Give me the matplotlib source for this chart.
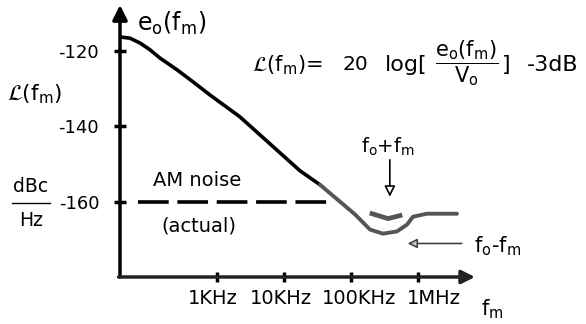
"""Phase noise L(f_m) sketch: e_o(f_m) roll-off against the AM noise floor"""
import matplotlib
matplotlib.use('Agg')
import matplotlib.pyplot as plt
from matplotlib.transforms import ScaledTranslation

plt.rcParams['font.family'] = ['DejaVu Sans']
plt.rcParams['mathtext.default'] = 'regular'

W, H = 586, 324

# offset frequency (Hz) and single-sideband noise (dBc/Hz)
f_m = [35.6, 50, 71, 100, 141, 253, 438, 787, 2.2e3, 17.3e3, 34.4e3,
       68.5e3, 115e3, 192e3, 300e3, 486e3, 686e3, 842e3, 1.36e6, 3.82e6]
L_fm = [-116.3, -116.6, -117.9, -119.7, -121.9, -125.0, -128.2, -131.7, -137.5, -151.8, -155.5,
        -160.0, -163.4, -167.4, -168.5, -167.9, -166.1, -164.0, -163.2, -163.2]
n_dark = 11  # points drawn in black, rest in grey

# upper sideband f_o + f_m
f_usb = [206e3, 357e3, 538e3]
L_usb = [-163.2, -164.5, -163.7]

# AM noise floor
f_am = [66, 45e3]
L_am = [-160, -160]

y_ticks = [-120, -140, -160]
y_labels = ['-120', '-140', '-160']
x_ticks = [1e3, 1e4, 1e5, 1e6]
x_labels = ['1KHz', '10KHz', '100KHz', '1MHz']
x_label_shift = [-4, -3, 8, 16]  # px, hand lettering sits off-centre


def px(x, y):
    return x / W, 1 - y / H


fig = plt.figure(figsize=(W / 100, H / 100), dpi=100)
fig.patch.set_facecolor('white')
ax = fig.add_axes([120 / W, (H - 277) / H, (475 - 120) / W, (277 - 5) / H])
ax.set_xscale('log')
ax.set_xlim(35.6, 7.1e6)
ax.set_ylim(-180, -107.8)
for s in ax.spines.values():
    s.set_visible(False)

# axes with arrow heads
ax.annotate('', xy=(0, 1), xytext=(0, 0), xycoords='axes fraction',
            arrowprops=dict(arrowstyle='-|>', lw=2.5, color='k', mutation_scale=22,
                            shrinkA=0, shrinkB=0))
ax.annotate('', xy=(1, 0), xytext=(-0.004, 0), xycoords='axes fraction',
            arrowprops=dict(arrowstyle='-|>', lw=2.5, color='#222222', mutation_scale=20,
                            shrinkA=0, shrinkB=0))

ax.set_yticks(y_ticks, labels=y_labels)
ax.set_xticks(x_ticks, labels=x_labels)
ax.minorticks_off()
ax.tick_params(axis='y', direction='inout', length=8, width=2.5, pad=11, labelsize=13)
ax.tick_params(axis='x', direction='inout', length=7, width=2.5, pad=5, labelsize=14)
for lbl, dx in zip(ax.get_xticklabels(), x_label_shift):
    lbl.set_transform(lbl.get_transform() + ScaledTranslation(dx / 100, 0, fig.dpi_scale_trans))

# curves
ax.plot(f_m[:n_dark], L_fm[:n_dark], color='k', lw=2.6,
        solid_capstyle='round', solid_joinstyle='round')
ax.plot(f_m[n_dark - 1:], L_fm[n_dark - 1:], color='#555555', lw=2.8,
        solid_capstyle='round', solid_joinstyle='round')
ax.plot(f_usb, L_usb, color='#555555', lw=3.4, solid_joinstyle='round')
ax.plot(f_am, L_am, color='k', lw=2.6, ls=(0, (8.5, 2.4)))

# sideband markers
ax.annotate('', xy=(380e3, -158.7), xytext=(380e3, -148.9),
            arrowprops=dict(arrowstyle='-|>', lw=1.2, color='k', fc='white',
                            mutation_scale=16, shrinkA=0, shrinkB=0))
ax.annotate('', xy=(700e3, -171.1), xytext=(4.5e6, -171.1),
            arrowprops=dict(arrowstyle='-|>', lw=1.2, color='#444444', fc='#cccccc',
                            mutation_scale=14, shrinkA=0, shrinkB=0))

# labels
fig.text(*px(137, 23), r'$e_o(f_m)$', fontsize=17, va='center', ha='left')
fig.text(*px(7, 94), r'$\mathcal{L}(f_m)$', fontsize=15.5, va='center', ha='left')
fig.text(*px(31, 187), 'dBc', fontsize=13.5, va='center', ha='center')
fig.text(*px(31, 220), 'Hz', fontsize=13.5, va='center', ha='center')
fig.add_artist(plt.Line2D([12 / W, 50 / W], [1 - 203 / H, 1 - 203 / H], color='k', lw=1))

# L(f_m) definition, laid out piece by piece
fig.text(*px(252, 65), r'$\mathcal{L}(f_m)$=', fontsize=15, va='center', ha='left')
fig.text(*px(343, 65), '20', fontsize=14.5, va='center', ha='left')
fig.text(*px(385, 65), 'log[', fontsize=16, va='center', ha='left')
fig.text(*px(467, 63), r'$\dfrac{e_o(f_m)}{V_o}$', fontsize=15, va='center', ha='center')
fig.text(*px(502, 65), ']', fontsize=16, va='center', ha='left')
fig.text(*px(527, 65), '-3dB', fontsize=16, va='center', ha='left')

fig.text(*px(197, 180), 'AM noise', fontsize=14, va='center', ha='center')
fig.text(*px(199, 226), '(actual)', fontsize=14, va='center', ha='center')
fig.text(*px(388, 147), r'$f_o$+$f_m$', fontsize=14, va='center', ha='center')
fig.text(*px(474, 246), r'$f_o$-$f_m$', fontsize=15, va='center', ha='left')
fig.text(*px(481, 309), r'$f_m$', fontsize=15, va='center', ha='left')

plt.savefig('out.png', dpi=100, facecolor='white')
